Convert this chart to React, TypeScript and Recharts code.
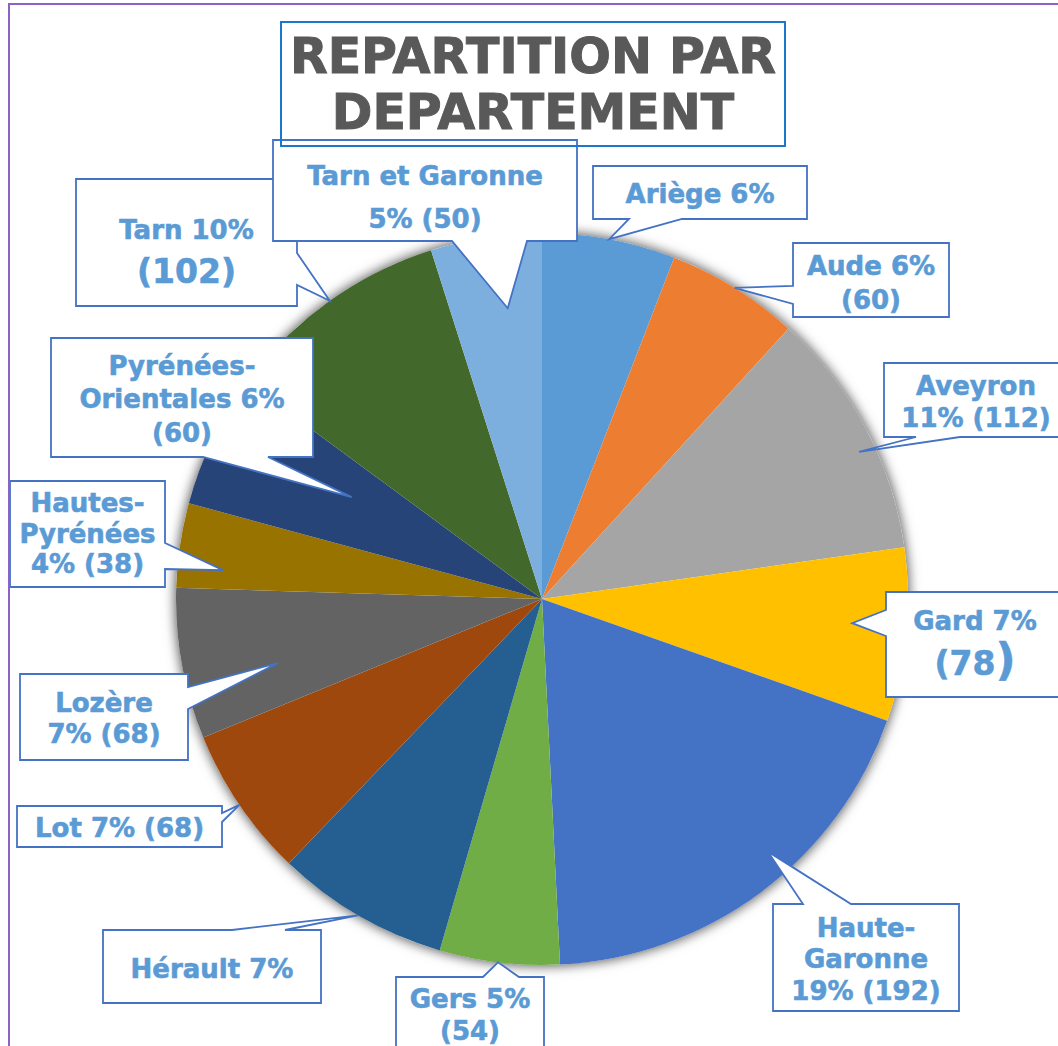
import React from 'react';
import { PieChart, Pie, Cell } from 'recharts';

// Données : effectifs par département
const departements = [
  'Ariège', 'Aude', 'Aveyron', 'Gard', 'Haute-Garonne', 'Gers', 'Hérault',
  'Lot', 'Lozère', 'Hautes-Pyrénées', 'Pyrénées-Orientales', 'Tarn', 'Tarn et Garonne',
];
const effectifs = [60, 60, 112, 78, 192, 54, 78, 68, 68, 38, 60, 102, 50];
const couleurs = [
  '#5B9BD5', '#ED7D31', '#A5A5A5', '#FFC000', '#4472C4', '#70AD47', '#255E91',
  '#9E480E', '#636363', '#997300', '#264478', '#43682B', '#7CAFDD',
];
const etiquettes = [
  ['Ariège 6%'],
  ['Aude 6%', '(60)'],
  ['Aveyron', '11% (112)'],
  ['Gard 7%', '(78)'],
  ['Haute-', 'Garonne', '19% (192)'],
  ['Gers 5%', '(54)'],
  ['Hérault 7%'],
  ['Lot 7% (68)'],
  ['Lozère', '7% (68)'],
  ['Hautes-', 'Pyrénées', '4% (38)'],
  ['Pyrénées-', 'Orientales 6%', '(60)'],
  ['Tarn 10%', '(102)'],
  ['Tarn et Garonne', '5% (50)'],
];

const data = departements.map((name, i) => ({ name, value: effectifs[i] }));
// disque plein sous le camembert, uniquement pour l'ombre portée
const total = [{ name: 'total', value: effectifs.reduce((s, v) => s + v, 0) }];

const CX = 542;
const CY = 599;
const R = 366;
const FONT = "'DejaVu Sans', Verdana, sans-serif";
const LABEL_COLOR = '#5B9BD5';
const BOX_COLOR = '#4472C4';

type Side = 'top' | 'right' | 'bottom' | 'left';
interface Callout {
  box: [number, number, number, number]; // relative to pie centre
  side: Side;
  base: [number, number];
  tipR: number;
  da: number; // degrees, clockwise
  baselines: number[];
  sizes?: number[];
  bigClose?: boolean;
}

// placement of the callout boxes around the pie
const callouts: Callout[] = [
  { box: [51, -433, 265, -380], side: 'bottom', base: [87, 140], tipR: 1, da: 0, baselines: [37] },
  { box: [251, -356, 407, -282], side: 'left', base: [-313, -295], tipR: 1, da: 0, baselines: [32, 66] },
  { box: [342, -236, 526, -162], side: 'bottom', base: [374, 418], tipR: 0.955, da: 3, baselines: [32, 64] },
  { box: [344, -7, 522, 98], side: 'left', base: [11, 37], tipR: 0.85, da: -1.2, baselines: [38, 83], sizes: [26, 33], bigClose: true },
  { box: [231, 305, 417, 412], side: 'top', base: [261, 309], tipR: 0.926, da: -5.1, baselines: [33, 64, 96] },
  { box: [-146, 378, 2, 461], side: 'top', base: [-59, -23], tipR: 1, da: 0.2, baselines: [31, 63] },
  { box: [-439, 331, -221, 404], side: 'top', base: [-310, -257], tipR: 1, da: 0.2, baselines: [48] },
  { box: [-525, 207, -320, 248], side: 'right', base: [214, 223], tipR: 1, da: 0, baselines: [31] },
  { box: [-522, 75, -354, 161], side: 'right', base: [88, 110], tipR: 0.743, da: -3.4, baselines: [38, 69] },
  { box: [-532, -118, -377, -12], side: 'right', base: [-56, -30], tipR: 0.875, da: -3.3, baselines: [31, 62, 92] },
  { box: [-491, -261, -229, -142], side: 'bottom', base: [-339, -274], tipR: 0.59, da: 2.4, baselines: [37, 70, 104] },
  { box: [-466, -420, -245, -293], side: 'right', base: [-346, -314], tipR: 1, da: 0.2, baselines: [60, 104], sizes: [26, 33] },
  { box: [-269, -459, 35, -358], side: 'bottom', base: [-90, -15], tipR: 0.8, da: 2.1, baselines: [45, 88] },
];

function calloutPath(x1: number, y1: number, x2: number, y2: number, side: Side, a: number, b: number, tx: number, ty: number) {
  switch (side) {
    case 'top':
      return `M${x1},${y1} L${a},${y1} L${tx},${ty} L${b},${y1} L${x2},${y1} L${x2},${y2} L${x1},${y2} Z`;
    case 'right':
      return `M${x1},${y1} L${x2},${y1} L${x2},${a} L${tx},${ty} L${x2},${b} L${x2},${y2} L${x1},${y2} Z`;
    case 'bottom':
      return `M${x1},${y1} L${x2},${y1} L${x2},${y2} L${b},${y2} L${tx},${ty} L${a},${y2} L${x1},${y2} Z`;
    default:
      return `M${x1},${y1} L${x2},${y1} L${x2},${y2} L${x1},${y2} L${x1},${b} L${tx},${ty} L${x1},${a} Z`;
  }
}

const renderCallout = (props: any) => {
  const { index, midAngle } = props;
  const cx = props.cx ?? CX;
  const cy = props.cy ?? CY;
  const outerRadius = props.outerRadius ?? R;
  const c = callouts[index];
  if (!c) return null;

  // recharts angle -> clockwise from 12 o'clock
  const cw = ((90 - midAngle + c.da) * Math.PI) / 180;
  const tx = cx + outerRadius * c.tipR * Math.sin(cw);
  const ty = cy - outerRadius * c.tipR * Math.cos(cw);

  const x1 = cx + c.box[0];
  const y1 = cy + c.box[1];
  const x2 = cx + c.box[2];
  const y2 = cy + c.box[3];
  const isVert = c.side === 'left' || c.side === 'right';
  const a = (isVert ? cy : cx) + c.base[0];
  const b = (isVert ? cy : cx) + c.base[1];
  const mid = (x1 + x2) / 2;

  return (
    <g key={`callout-${index}`}>
      <path d={calloutPath(x1, y1, x2, y2, c.side, a, b, tx, ty)} fill="#FFFFFF" stroke={BOX_COLOR} strokeWidth={1.8} />
      {etiquettes[index].map((line, li) => {
        const size = c.sizes?.[li] ?? 26;
        const last = li === etiquettes[index].length - 1;
        return (
          <text
            key={li}
            x={mid}
            y={y1 + c.baselines[li]}
            textAnchor="middle"
            fontFamily={FONT}
            fontWeight="bold"
            fontSize={size}
            fill={LABEL_COLOR}
            stroke={LABEL_COLOR}
            strokeWidth={0.6}
          >
            {c.bigClose && last ? (
              <>
                <tspan>{line.slice(0, -1)}</tspan>
                <tspan fontSize={44}>{line.slice(-1)}</tspan>
              </>
            ) : (
              line
            )}
          </text>
        );
      })}
    </g>
  );
};

const App: React.FC = () => {
  return (
    <div style={{ position: 'absolute', left: 0, top: 0, width: 1058, height: 1046, background: '#FFFFFF', overflow: 'hidden' }}>
      <style>{`.ombre { filter: drop-shadow(0 0 6px rgba(0,0,0,0.4)); }`}</style>
      <PieChart width={1058} height={1046} margin={{ top: 0, right: 0, bottom: 0, left: 0 }}>
        <Pie
          data={total}
          dataKey="value"
          cx={CX}
          cy={CY}
          outerRadius={R}
          startAngle={90}
          endAngle={-270}
          fill="#FFFFFF"
          stroke="none"
          className="ombre"
          isAnimationActive={false}
        />
        <Pie
          data={data}
          dataKey="value"
          nameKey="name"
          cx={CX}
          cy={CY}
          outerRadius={R}
          startAngle={90}
          endAngle={-270}
          stroke="none"
          isAnimationActive={false}
        >
          {data.map((d, i) => (
            <Cell key={d.name} fill={couleurs[i]} stroke="none" />
          ))}
        </Pie>
        <Pie
          data={data}
          dataKey="value"
          nameKey="name"
          cx={CX}
          cy={CY}
          outerRadius={R}
          startAngle={90}
          endAngle={-270}
          fill="transparent"
          stroke="none"
          label={renderCallout}
          labelLine={false}
          isAnimationActive={false}
        />
      </PieChart>

      {/* cadre du graphique */}
      <div
        style={{
          position: 'absolute', left: 8, top: 3, width: 1070, height: 1070,
          border: '2px solid #8E62C4', pointerEvents: 'none',
        }}
      />

      {/* titre */}
      <div
        style={{
          position: 'absolute', left: 280, top: 21, width: 502, height: 116,
          border: '2px solid #1B76CC', pointerEvents: 'none',
          fontFamily: FONT, fontWeight: 'bold',
          fontSize: 49, lineHeight: '56px', color: '#595959', textAlign: 'center',
          paddingTop: 6, boxSizing: 'content-box',
          WebkitTextStroke: '1px #595959',
        }}
      >
        REPARTITION PAR
        <br />
        DEPARTEMENT
      </div>
    </div>
  );
};

export default App;
